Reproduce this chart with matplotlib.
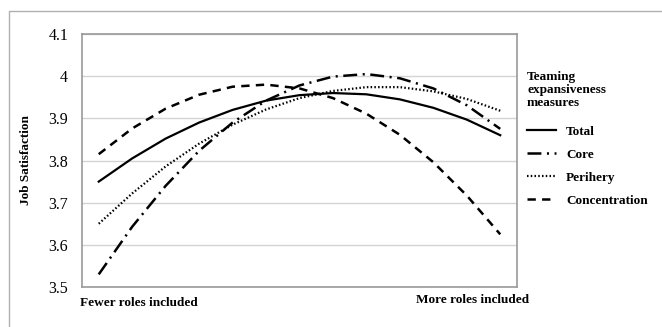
import matplotlib.pyplot as plt
from matplotlib.lines import Line2D

plt.rcParams['font.family'] = ['Liberation Serif', 'DejaVu Serif']
plt.rcParams['lines.scale_dashes'] = False

# 13 evenly spaced points from "fewer" to "more" roles included
steps = list(range(13))
total = [3.750, 3.805, 3.852, 3.890, 3.920, 3.942, 3.955, 3.960, 3.957, 3.945, 3.925, 3.897, 3.860]
core = [3.530, 3.643, 3.740, 3.823, 3.890, 3.942, 3.978, 3.999, 4.005, 3.995, 3.971, 3.931, 3.875]
periphery = [3.650, 3.722, 3.786, 3.840, 3.885, 3.921, 3.948, 3.965, 3.974, 3.974, 3.964, 3.946, 3.918]
concentration = [3.815, 3.876, 3.923, 3.956, 3.975, 3.980, 3.971, 3.948, 3.911, 3.861, 3.796, 3.717, 3.625]

series_names = ['Total', 'Core', 'Perihery', 'Concentration']
y_ticks = [3.5, 3.6, 3.7, 3.8, 3.9, 4.0, 4.1]
y_tick_labels = ['3.5', '3.6', '3.7', '3.8', '3.9', '4', '4.1']

fig = plt.figure(figsize=(6.62, 3.27), dpi=100)
ax = fig.add_axes([0.1239, 0.1223, 0.657, 0.7737])

ax.plot(steps, total, color='black', lw=1.6, linestyle='-', label=series_names[0])
ax.plot(steps, core, color='black', lw=1.8, linestyle=(0, (10, 4, 1.5, 4)), label=series_names[1])
ax.plot(steps, periphery, color='black', lw=1.6, linestyle=(0, (1.1, 1.6)), label=series_names[2])
ax.plot(steps, concentration, color='black', lw=1.8, linestyle=(0, (6, 4.5)), label=series_names[3])

ax.set_xlim(-0.5, 12.5)
ax.set_ylim(3.5, 4.1)
ax.set_yticks(y_ticks)
ax.set_yticklabels(y_tick_labels, fontsize=11.5)
ax.set_xticks([])
ax.tick_params(axis='y', length=0, pad=10)
ax.grid(axis='y', color='#d4d4d4', lw=1.0)
ax.set_axisbelow(True)
for sp in ax.spines.values():
    sp.set_color('#999999')
    sp.set_linewidth(1.2)

ax.set_ylabel('Job Satisfaction', fontsize=9.5, fontweight='bold', labelpad=12)

fig.text(80 / 662, 1 - 303 / 327, 'Fewer roles included', fontsize=9.5, fontweight='bold',
         ha='left', va='center')
fig.text(473 / 662, 1 - 300 / 327, 'More roles included', fontsize=9.5, fontweight='bold',
         ha='center', va='center')

leg = ax.legend(loc='upper left', bbox_to_anchor=(527 / 662, 1 - 71 / 327),
                bbox_transform=fig.transFigure, frameon=False,
                title='Teaming\nexpansiveness\nmeasures', alignment='left',
                prop={'weight': 'bold', 'size': 9.5},
                title_fontproperties={'weight': 'bold', 'size': 9.5},
                handlelength=2.2, handletextpad=0.75, labelspacing=0.82,
                borderaxespad=0, borderpad=0)
leg.get_title().set_linespacing(1.1)
leg._legend_box.sep = 12

# outer chart frame
fig.add_artist(Line2D([9 / 662, 9 / 662, 1.0], [0.0, 1 - 11 / 327, 1 - 11 / 327],
                      transform=fig.transFigure, color='#b0b0b0', lw=1.0))

fig.savefig('out.png', dpi=100)
